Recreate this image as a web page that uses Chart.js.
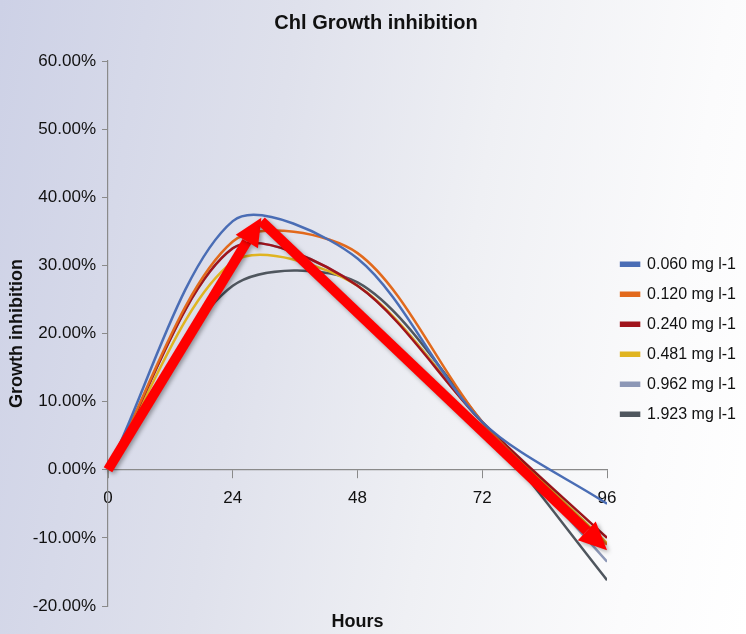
<!DOCTYPE html>
<html>
<head>
<meta charset="utf-8">
<script src="https://cdn.jsdelivr.net/npm/chart.js@4.4.1/dist/chart.umd.min.js"></script>
<style>
  html, body { margin: 0; padding: 0; }
  body {
    width: 746px; height: 634px; overflow: hidden;
    background: linear-gradient(100deg, #cdd1e6 0%, #dfe1ec 35%, #eff0f4 60%, #fbfbfc 85%, #ffffff 100%);
  }
  #wrap { width: 746px; height: 634px; }
</style>
</head>
<body>
<div id="wrap"><canvas id="chl"></canvas></div>
<script>
// - - - - - - - - - - Chl Growth inhibition - - - - - - - - - -

// horas de exposição
const hours = [0, 24, 48, 72, 96];

// inibição (%) por concentração
const c0060 = [0, 36.5, 31, 7, -5];
const c0120 = [0, 33.5, 31.8, 7, -11];
const c0240 = [0, 32.5, 27, 7, -10];
const c0481 = [0, 30.5, 27, 7, -10.8];
const c0962 = [0, 32.5, 27, 7, -13.5];
const c1923 = [0, 27, 27.5, 7, -16.2];

const seriesNames = ['0.060 mg l-1', '0.120 mg l-1', '0.240 mg l-1', '0.481 mg l-1', '0.962 mg l-1', '1.923 mg l-1'];
const seriesColors = ['#4a6db5', '#e2691c', '#a0141c', '#e0b421', '#8c97b6', '#4f565e'];

// setas vermelhas (horas, %)
const arrows = [
    [[0, 0], [29.5, 37]],
    [[29.5, 36.5], [96, -11.8]]
];

const yTicks = {min: -20, max: 60, step: 10};
const FONT = "'Liberation Sans', Arial, sans-serif";

const toPoints = vals => hours.map((h, i) => ({x: h, y: vals[i]}));

const dados_chl = {
    datasets: [c0060, c0120, c0240, c0481, c0962, c1923].map((vals, i) => ({
        label: seriesNames[i],
        data: toPoints(vals),
        borderColor: seriesColors[i],
        backgroundColor: seriesColors[i],
        borderWidth: 2.5,
        pointRadius: 0,
        tension: 0.3,
        fill: false
    }))
};

// setas + título "Hours"
const extras = {
    id: 'extras',
    afterDatasetsDraw(chart) {
        const {ctx, scales: {x, y}} = chart;
        ctx.save();
        ctx.fillStyle = '#ff0000';
        ctx.strokeStyle = '#ff0000';
        ctx.shadowColor = 'rgba(0,0,0,0.35)';
        ctx.shadowBlur = 4;
        ctx.shadowOffsetX = 2;
        ctx.shadowOffsetY = 2;
        arrows.forEach(a => {
            const x1 = x.getPixelForValue(a[0][0]), y1 = y.getPixelForValue(a[0][1]);
            const x2 = x.getPixelForValue(a[1][0]), y2 = y.getPixelForValue(a[1][1]);
            const ang = Math.atan2(y2 - y1, x2 - x1);
            const head = 28, half = 13;
            const bx = x2 - head * Math.cos(ang), by = y2 - head * Math.sin(ang);
            ctx.lineWidth = 10;
            ctx.beginPath();
            ctx.moveTo(x1, y1);
            ctx.lineTo(bx, by);
            ctx.stroke();
            ctx.beginPath();
            ctx.moveTo(x2, y2);
            ctx.lineTo(bx + half * Math.sin(ang), by - half * Math.cos(ang));
            ctx.lineTo(bx - half * Math.sin(ang), by + half * Math.cos(ang));
            ctx.closePath();
            ctx.fill();
        });
        ctx.restore();
    },
    afterDraw(chart) {
        const {ctx, chartArea} = chart;
        ctx.save();
        ctx.font = 'bold 18px ' + FONT;
        ctx.fillStyle = '#111';
        ctx.textAlign = 'center';
        ctx.textBaseline = 'middle';
        ctx.fillText('Hours', (chartArea.left + chartArea.right) / 2, 622);
        ctx.restore();
    }
};

const conf_chl = {
    responsive: true,
    maintainAspectRatio: false,
    animation: false,
    layout: {padding: {left: 6, right: 0, bottom: 28}},
    scales: {
        x: {
            type: 'linear',
            min: 0,
            max: 96,
            position: {y: 0},
            ticks: {
                stepSize: 24,
                color: '#111',
                font: {family: FONT, size: 17},
                padding: 10
            },
            border: {color: '#8a8a8a', width: 1.2},
            grid: {
                drawOnChartArea: false,
                tickLength: 8,
                color: '#8a8a8a'
            }
        },
        y: {
            min: yTicks.min,
            max: yTicks.max,
            afterFit(scale) { scale.width = 102; },
            ticks: {
                stepSize: yTicks.step,
                color: '#111',
                font: {family: FONT, size: 17},
                padding: 6,
                callback: v => v.toFixed(2) + '%'
            },
            title: {
                display: true,
                text: 'Growth inhibition',
                color: '#111',
                font: {family: FONT, size: 18, weight: 'bold'},
                padding: {top: 0, bottom: 4}
            },
            border: {color: '#8a8a8a', width: 1.2},
            grid: {
                drawOnChartArea: false,
                tickLength: 6,
                color: '#8a8a8a'
            }
        }
    },
    plugins: {
        title: {
            display: true,
            text: 'Chl Growth inhibition',
            color: '#111',
            font: {family: FONT, size: 20, weight: 'bold'},
            padding: {top: 11, bottom: 26}
        },
        legend: {
            position: 'right',
            title: {
                display: true,
                text: ' ',
                font: {size: 2},
                padding: {top: 35, bottom: 35}
            },
            labels: {
                boxWidth: 18,
                boxHeight: 3,
                padding: 14,
                color: '#111',
                font: {family: FONT, size: 16}
            }
        },
        tooltip: {enabled: false}
    }
};

const lineChart_chl = new Chart(document.getElementById('chl').getContext('2d'), {
    type: 'line',
    data: dados_chl,
    options: conf_chl,
    plugins: [extras]
});
</script>
</body>
</html>
